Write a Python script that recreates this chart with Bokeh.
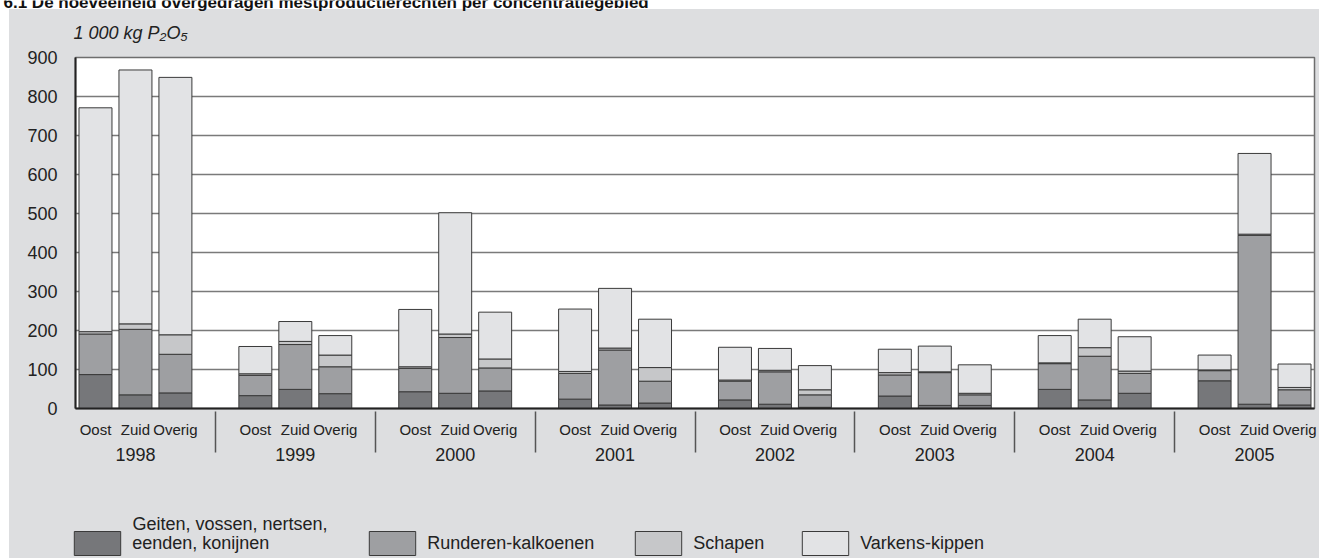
from bokeh.plotting import figure
from bokeh.layouts import column
from bokeh.models import (FactorRange, Range1d, FixedTicker, Label, Legend,
                          LegendItem, ColumnDataSource)
from bokeh.embed import file_html
from bokeh.resources import INLINE

# ---------------- data ----------------
years = ["1998", "1999", "2000", "2001", "2002", "2003", "2004", "2005"]
regions = ["Oost", "Zuid", "Overig"]
series_names = ["Geiten, vossen, nertsen,", "eenden, konijnen",
                "Runderen-kalkoenen", "Schapen", "Varkens-kippen"]
geiten = [87, 35, 40, 33, 49, 38, 43, 39, 45, 24, 9, 14,
          22, 11, 3, 32, 8, 8, 49, 22, 39, 71, 11, 9]
runderen = [104, 168, 99, 52, 115, 69, 60, 143, 59, 66, 141, 56,
            48, 83, 32, 54, 84, 27, 66, 112, 51, 26, 433, 39]
schapen = [6, 14, 50, 4, 8, 30, 4, 9, 23, 5, 5, 35,
           3, 4, 13, 6, 2, 4, 2, 22, 6, 2, 3, 6]
varkens = [574, 651, 660, 70, 51, 50, 147, 311, 120, 160, 153, 124,
           84, 56, 62, 60, 66, 73, 70, 73, 88, 38, 207, 60]
y_ticks = [0, 100, 200, 300, 400, 500, 600, 700, 800, 900]
title_text = "6.1  De hoeveelheid overgedragen mestproductierechten per concentratiegebied"
unit_text = "1 000 kg P\u2082O\u2085"

colors = ["#76777a", "#9e9fa2", "#c6c7c9", "#e2e3e5"]
EDGE = "#3a3a3a"
FONT = "Liberation Sans"
PANEL = "#dddee0"
W = 1319
H_TOP, H_MAIN, H_LEG = 45, 445, 68


def no_align(f):
    try:
        f.frame_align = False
    except AttributeError:
        pass


def bare(height, x_range=None, y_range=None):
    f = figure(width=W, height=height,
               x_range=x_range if x_range is not None else Range1d(0, 1),
               y_range=y_range if y_range is not None else Range1d(0, 1),
               output_backend="svg", toolbar_location=None, title=None,
               x_axis_location=None, y_axis_location=None,
               min_border=0, min_border_left=0, min_border_right=0,
               min_border_top=0, min_border_bottom=0)
    f.grid.visible = False
    f.outline_line_color = None
    f.background_fill_color = None
    f.border_fill_color = None
    no_align(f)
    return f


# ---------------- top strip: title + unit ----------------
tf = bare(H_TOP)
tf.add_layout(Label(x=3, y=H_TOP - 2, x_units="screen", y_units="screen",
                    text=title_text, text_font=FONT, text_font_size="17px",
                    text_font_style="bold", text_color="#111111",
                    text_baseline="middle"))
tf.add_layout(Label(x=73, y=H_TOP - 32, x_units="screen", y_units="screen",
                    text=unit_text, text_font=FONT, text_font_size="18px",
                    text_font_style="italic", text_color="#222222",
                    text_baseline="middle"))

# ---------------- main chart ----------------
factors = [(y, r) for y in years for r in regions]
src = ColumnDataSource(dict(x=factors, geiten=geiten, runderen=runderen,
                            schapen=schapen, varkens=varkens))
xr = FactorRange(*factors, group_padding=1.0, range_padding=0)

p = figure(width=W, height=H_MAIN, title=None,
           x_range=xr, y_range=Range1d(0, 900),
           output_backend="svg", toolbar_location=None,
           min_border_left=75, min_border_right=5,
           min_border_top=57 - H_TOP, min_border_bottom=H_TOP + H_MAIN - 408)
no_align(p)
p.border_fill_color = None
p.background_fill_color = "white"
p.outline_line_color = "#6e6e6e"
p.outline_line_width = 1.5

stack = ["geiten", "runderen", "schapen", "varkens"]
p.vbar_stack(stack, x="x", width=0.825, source=src,
             fill_color=colors, line_color=EDGE, line_width=1)

ya = p.yaxis[0]
ya.ticker = FixedTicker(ticks=y_ticks)
ya.major_tick_out = 0
ya.major_tick_in = 0
ya.minor_tick_out = 0
ya.minor_tick_in = 0
ya.major_label_standoff = 18
ya.major_label_text_font = FONT
ya.major_label_text_font_size = "18px"
ya.major_label_text_color = "#222222"
ya.axis_line_color = "#222222"
ya.axis_line_width = 2

xa = p.xaxis[0]
xa.major_tick_out = 5
xa.major_tick_in = 0
xa.major_tick_line_color = None
xa.major_label_standoff = 7
xa.major_label_text_font = FONT
xa.major_label_text_font_size = "15px"
xa.major_label_text_color = "#222222"
xa.group_text_font = FONT
xa.group_text_font_size = "18px"
xa.group_text_font_style = "normal"
xa.group_text_color = "#222222"
xa.separator_line_color = "#555555"
xa.separator_line_width = 1.5
xa.axis_line_color = "#222222"
xa.axis_line_width = 2

p.xgrid.grid_line_color = None
p.ygrid.grid_line_color = "#7a7a7a"
p.ygrid.grid_line_width = 1.4

# ---------------- legend strip ----------------
# the same stacked series, hidden: they only supply the legend swatches
lf = bare(H_LEG, x_range=xr, y_range=Range1d(0, 900))
leg_rs = lf.vbar_stack(stack, x="x", width=0.825, source=src,
                       fill_color=colors, line_color=EDGE, line_width=1)
for r in leg_rs:
    r.visible = False
swatch_x = [74, 369, 635, 802]
leg_labels = series_names[1:]
GW, GH = 58, 30                      # legend glyph box (swatch is 80 % of it)
ROW_MID = 543                        # vertical centre of the legend row (page px)
ROW_BOTTOM = ROW_MID + GH / 2 - (H_TOP + H_MAIN)
for r, name, sx in zip(leg_rs, leg_labels, swatch_x):
    lg = Legend(items=[LegendItem(label=name, renderers=[r])],
                location=(sx - 0.1 * GW, H_LEG - ROW_BOTTOM),
                orientation="horizontal",
                glyph_width=GW, glyph_height=GH, label_height=GH,
                label_standoff=6, padding=0, margin=0, spacing=0,
                background_fill_alpha=0, border_line_alpha=0,
                inactive_fill_alpha=0,
                label_text_font=FONT, label_text_font_size="18px",
                label_text_color="#222222")
    lf.add_layout(lg, "center")
lf.add_layout(Label(x=132, y=H_LEG - (ROW_MID - 20 - H_TOP - H_MAIN), x_units="screen",
                    y_units="screen", text=series_names[0], text_font=FONT,
                    text_font_size="18px", text_color="#222222",
                    text_baseline="middle"))

layout = column(tf, p, lf, spacing=0)
layout.styles = {"position": "absolute", "left": "0px", "top": "0px", "margin": "0px",
                 "background": "linear-gradient(%s,%s) 9px 9px / 100%% 100%% no-repeat, #ffffff" % (PANEL, PANEL)}

open("out.html", "w").write(file_html(layout, INLINE))
